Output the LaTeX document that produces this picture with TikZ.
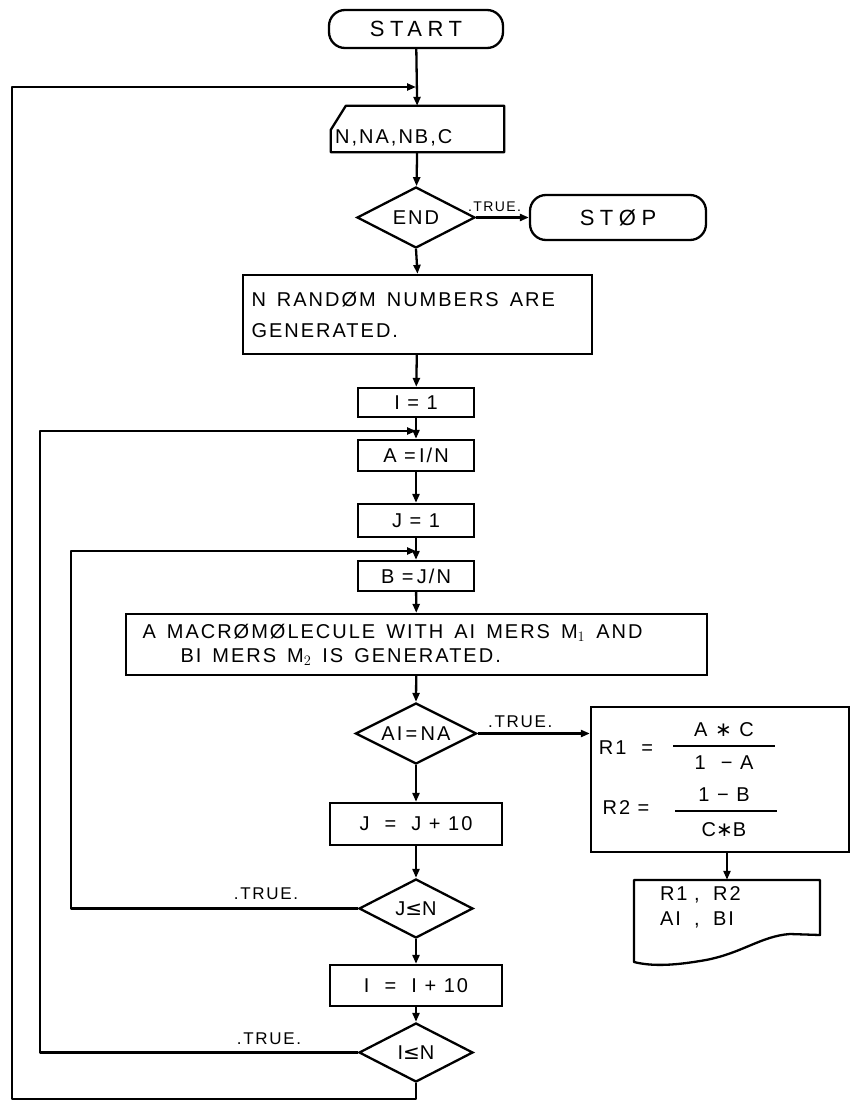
\documentclass[tikz,border=0pt]{standalone}
\usepackage{amsmath}
\usepackage{fontspec}
\setmainfont{Liberation Sans}[LetterSpace=10]
\newfontfamily\dejavu{DejaVu Sans}
\usetikzlibrary{shapes.geometric,arrows.meta,calc}
\newcommand{\wg}{\hspace{11pt}}
\begin{document}
\begin{tikzpicture}[x=1pt,y=-1pt,
  every node/.style={font=\fontsize{20}{24}\selectfont, inner sep=0pt},
  line/.style={line width=2.3pt, line join=round},
  arr/.style={line, -{Triangle[length=9pt,width=7pt]}},
  proc/.style={draw, line width=2.3pt},
  term/.style={draw, line width=2.3pt, rounded corners=16pt},
  dec/.style={draw, diamond, line width=2.3pt, aspect=2},
  lbl/.style={font=\fontsize{17}{20}\selectfont},
  slbl/.style={font=\fontsize{14}{17}\selectfont},
  big/.style={font=\fontsize{22}{26}\selectfont\addfontfeature{LetterSpace=25}},
]
\useasboundingbox (0,0) rectangle (851,1111);

% nodes
\node[term, big, minimum width=174pt, minimum height=38pt] (start) at (416,29) {START};
\node[minimum width=173pt, minimum height=46pt] (in) at (417.5,129) {};
\draw[line] ($(in.north west)+(15,0)$) -- (in.north east) -- (in.south east) -- (in.south west) -- ($(in.north west)+(0,24)$) -- cycle;
\node[anchor=west] (intext) at (335,138) {N,NA,NB,C};
\node[dec, minimum width=118pt, minimum height=61pt] (end) at (416,217.5) {END};
\node[term, big, minimum width=176pt, minimum height=45pt] (stop) at (618,217.5) {STØP};
\node[proc, minimum width=349pt, minimum height=79pt, text width=332pt, align=left,
      font=\fontsize{20}{31}\selectfont] (gen) at (417.5,314.5) {N\wg RANDØM\wg NUMBERS\wg ARE\\GENERATED.};
\node[proc, minimum width=116pt, minimum height=29pt] (i1) at (416,402.5) {I\ =\ 1};
\node[proc, minimum width=116pt, minimum height=31pt] (a) at (416,455.5) {A\ =\,I/N};
\node[proc, minimum width=116pt, minimum height=33pt] (j1) at (416,520.5) {J\ =\ 1};
\node[proc, minimum width=116pt, minimum height=30pt] (b) at (416,576) {B\ =\,J/N};
\node[proc, minimum width=581pt, minimum height=61pt, text width=548pt, align=left,
      font=\fontsize{20}{24}\selectfont] (mac) at (416.5,644.5)
  {A\wg MACRØMØLECULE\wg WITH\wg AI\wg MERS\wg M$_1$\wg AND\\\hspace*{38pt}BI\wg MERS\wg M$_2$\wg IS\wg GENERATED.};
\node[dec, minimum width=121pt, minimum height=61pt] (aina) at (416,733.5) {AI\,=\,NA};
\node[proc, minimum width=172pt, minimum height=42pt] (jj) at (416,824) {J\ \ =\ \ J\ +\ 10};
\node[dec, minimum width=114pt, minimum height=59pt] (jle) at (416,908.5) {J{\dejavu ≤}N};
\node[proc, minimum width=172pt, minimum height=41pt] (ii) at (416,985.5) {I\ \ =\ \ I\ +\ 10};
\node[dec, minimum width=114pt, minimum height=59pt] (ile) at (416,1052.5) {I{\dejavu ≤}N};

% result box
\node[proc, minimum width=258pt, minimum height=145pt] (rbox) at (720,779.5) {};
\node (r1) at (626,748) {R1\ \ =};
\node (n1) at (724,730) {A\ {\dejavu ∗}\ C};
\node (d1) at (724,763) {1\ \ − A};
\draw[line] (673,746) -- (775,746);
\node (r2) at (626,808) {R2\ =};
\node (n2) at (724,795) {1\ − B};
\node (d2) at (724,830) {C{\dejavu ∗}B};
\draw[line] (675,811) -- (777,811);

% document
\node[minimum width=186pt, minimum height=55pt, text width=170pt, align=left,
      font=\fontsize{20}{25}\selectfont] (doc) at (727,907.5) {\hspace*{18pt}R1\ ,\ \ R2\\\hspace*{18pt}AI\ \ ,\ \ BI};
\draw[line] (634,880) -- (820,880) -- (820,935) -- (790,934)
  .. controls (760,936) and (740,955) .. (700,961)
  .. controls (670,966) and (650,966) .. (634,962) -- cycle;

% coordinates for loops
\coordinate (l1a) at (416,1099);
\coordinate (l1b) at (12,1099);
\coordinate (l1c) at (12,87);
\coordinate (l1d) at (416,87);
\coordinate (l2a) at (40,1052.5);
\coordinate (l2b) at (40,431);
\coordinate (l2c) at (416,431);
\coordinate (l3a) at (71,908.5);
\coordinate (l3b) at (71,551);
\coordinate (l3c) at (416,551);

% connectors
\draw[arr] (start) -- (in);
\draw[arr] (in) -- (end);
\draw[arr] (end.east) -- (stop.west) node[slbl, pos=0.35, above=5pt] {.TRUE.};
\draw[arr] (end.south) -- (gen.north);
\draw[arr] (gen) -- (i1);
\draw[arr] (i1) -- (a);
\draw[arr] (a) -- (j1);
\draw[arr] (j1) -- (b);
\draw[arr] (b) -- (mac);
\draw[arr] (mac) -- (aina.north);
\draw[arr] (aina.east) -- (aina.east -| rbox.west) node[lbl, pos=0.38, above=5pt] {.TRUE.};
\draw[arr] (aina.south) -- (jj.north);
\draw[arr] (jj) -- (jle.north);
\draw[arr] (jle.south) -- (ii.north);
\draw[arr] (ii) -- (ile.north);
\draw[arr] (rbox.south -| doc.north) -- (doc.north);
\draw[arr] (ile.south) -- (l1a) -- (l1b) -- (l1c) -- (l1d);
\draw[arr] (ile.west) -- (l2a) -- (l2b) -- (l2c);
\draw[arr] (jle.west) -- (l3a) -- (l3b) -- (l3c);
\node[lbl] (t3) at (266,894) {.TRUE.};
\node[lbl] (t2) at (269,1039) {.TRUE.};
\end{tikzpicture}
\end{document}
